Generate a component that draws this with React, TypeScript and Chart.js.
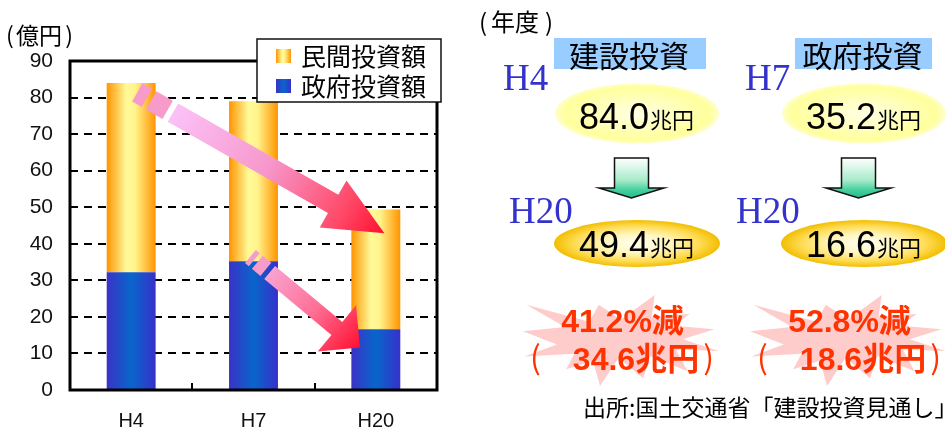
import React, { useEffect, useRef } from "react";
import { Chart, registerables } from "chart.js";

Chart.register(...registerables);

// Fiscal years on the category axis
const years = ["H4", "H7", "H20"];
// Stacked series values (億円 axis)
const privateInvestment = [51.8, 43.8, 32.8];
const governmentInvestment = [32.2, 35.2, 16.6];
const seriesNames = ["民間投資額", "政府投資額"];
const yMax = 90;
const yStep = 10;

// Trend arrows over the bars: [category index, value] of tail and tip
const arrowTails = [
  [0.05, 81.4],
  [0.975, 36.5],
];
const arrowTips = [
  [2.07, 42.9],
  [1.87, 11.6],
];

// Comparison panels
const panelTitles = ["建設投資", "政府投資"];
const panelFromYears = ["H4", "H7"];
const panelToYears = ["H20", "H20"];
const unitLabel = "兆円";
const sourceNote = "出所:国土交通省「建設投資見通し」";

const total = (i: number) => privateInvestment[i] + governmentInvestment[i];
const panelFrom = [total(0), governmentInvestment[1]];
const panelTo = [total(2), governmentInvestment[2]];

const BAR_PCT = 0.4;
const ORANGE: [number, string][] = [
  [0, "#FF9400"],
  [0.4, "#FFFA99"],
  [0.58, "#FFF48C"],
  [1, "#FF9400"],
];
const BLUE: [number, string][] = [
  [0, "#3A32C8"],
  [0.5, "#0866CA"],
  [1, "#3631CA"],
];

const CJK = '"Noto Sans CJK JP", sans-serif';
const SANS = '"Liberation Sans", Arial, sans-serif';
const SERIF = '"Liberation Serif", "Times New Roman", serif';

function hGradient(ctx: CanvasRenderingContext2D, x0: number, x1: number, stops: [number, string][]) {
  const g = ctx.createLinearGradient(x0, 0, x1, 0);
  stops.forEach(([o, c]) => g.addColorStop(o, c));
  return g;
}

const barFill = (stops: [number, string][]) => (c: any) => {
  const chart = c.chart;
  if (!chart.chartArea || c.type !== "data" || !chart.scales.x) return stops[1][1];
  const xs = chart.scales.x;
  const cx = xs.getPixelForValue(c.dataIndex);
  const half = ((xs.width / chart.data.labels.length) * BAR_PCT) / 2;
  return hGradient(chart.ctx, cx - half, cx + half, stops);
};

type ArrowStyle = {
  shaft: number;
  headW: number;
  headL: number;
  stripes: [number, number][];
  bodyStart: number;
  stripeColor: string;
  body: [number, string][];
};

const arrowStyles: ArrowStyle[] = [
  {
    shaft: 21,
    headW: 54,
    headL: 59,
    stripes: [
      [0, 11],
      [16, 35],
    ],
    bodyStart: 41,
    stripeColor: "#F79BCB",
    body: [
      [0, "#FBC2F8"],
      [0.45, "#F797CB"],
      [0.8, "#FF4B6A"],
      [1, "#FF1030"],
    ],
  },
  {
    shaft: 17,
    headW: 60,
    headL: 30,
    stripes: [
      [0, 5],
      [9, 20],
    ],
    bodyStart: 25,
    stripeColor: "#F79BCB",
    body: [
      [0, "#F9A2D0"],
      [0.5, "#FF6F95"],
      [1, "#FF1030"],
    ],
  },
];

function drawTrendArrow(ctx: CanvasRenderingContext2D, x0: number, y0: number, x1: number, y1: number, st: ArrowStyle) {
  const L = Math.hypot(x1 - x0, y1 - y0);
  const ux = (x1 - x0) / L;
  const uy = (y1 - y0) / L;
  const nx = -uy;
  const ny = ux;
  const P = (t: number, s: number): [number, number] => [x0 + ux * t + nx * s, y0 + uy * t + ny * s];
  const sw = st.shaft / 2;
  ctx.fillStyle = st.stripeColor;
  st.stripes.forEach(([a, b]) => {
    const pts = [P(a, -sw), P(b, -sw), P(b, sw), P(a, sw)];
    ctx.beginPath();
    ctx.moveTo(...pts[0]);
    pts.slice(1).forEach((p) => ctx.lineTo(...p));
    ctx.closePath();
    ctx.fill();
  });
  const hb = L - st.headL;
  const start = P(st.bodyStart, 0);
  const g = ctx.createLinearGradient(start[0], start[1], x1, y1);
  st.body.forEach(([o, c]) => g.addColorStop(o, c));
  ctx.fillStyle = g;
  const pts = [
    P(st.bodyStart, -sw),
    P(hb, -sw),
    P(hb, -st.headW / 2),
    [x1, y1] as [number, number],
    P(hb, st.headW / 2),
    P(hb, sw),
    P(st.bodyStart, sw),
  ];
  ctx.beginPath();
  ctx.moveTo(...pts[0]);
  pts.slice(1).forEach((p) => ctx.lineTo(...p));
  ctx.closePath();
  ctx.fill();
}

// Explosion outline on a 21600 grid
const SEAL: [number, number][] = [
  [10800, 5800], [14522, 0], [14155, 5325], [18380, 4457], [16702, 7315], [21097, 8137],
  [17607, 10475], [21600, 13290], [16837, 12942], [18145, 18095], [14020, 14457], [13247, 19737],
  [10532, 14935], [8485, 21600], [7715, 15627], [4762, 17617], [5667, 13937], [135, 14587],
  [3722, 11775], [0, 8615], [4627, 7617], [370, 2295], [7312, 6320], [8352, 2295],
];

function drawSeal(ctx: CanvasRenderingContext2D, x: number, y: number, w: number, h: number, color: string) {
  ctx.beginPath();
  SEAL.forEach(([px, py], i) => {
    const X = x + (px / 21600) * w;
    const Y = y + (py / 21600) * h;
    if (i === 0) ctx.moveTo(X, Y);
    else ctx.lineTo(X, Y);
  });
  ctx.closePath();
  ctx.fillStyle = color;
  ctx.fill();
}

function drawEllipse(ctx: CanvasRenderingContext2D, cx: number, cy: number, rx: number, ry: number, stops: [number, string][]) {
  ctx.save();
  ctx.translate(cx, cy);
  ctx.scale(rx, ry);
  const g = ctx.createRadialGradient(0, 0, 0, 0, 0, 1);
  stops.forEach(([o, c]) => g.addColorStop(o, c));
  ctx.fillStyle = g;
  ctx.beginPath();
  ctx.arc(0, 0, 1, 0, Math.PI * 2);
  ctx.fill();
  ctx.restore();
}

function drawDownArrow(ctx: CanvasRenderingContext2D, cx: number) {
  const top = 158;
  const base = 188;
  const tip = 198;
  const sw = 17;
  const hw = 32.5;
  const g = ctx.createLinearGradient(0, top, 0, tip);
  g.addColorStop(0, "#FFFFFF");
  g.addColorStop(0.55, "#A8EBCB");
  g.addColorStop(0.8, "#44D09E");
  g.addColorStop(1, "#22BB88");
  ctx.beginPath();
  ctx.moveTo(cx - sw, top);
  ctx.lineTo(cx + sw, top);
  ctx.lineTo(cx + sw, base);
  ctx.lineTo(cx + hw, base);
  ctx.lineTo(cx, tip);
  ctx.lineTo(cx - hw, base);
  ctx.lineTo(cx - sw, base);
  ctx.closePath();
  ctx.fillStyle = g;
  ctx.fill();
  ctx.lineWidth = 1.5;
  ctx.strokeStyle = "#111";
  ctx.stroke();
}

function text(ctx: CanvasRenderingContext2D, s: string, x: number, y: number, font: string, color: string, align: CanvasTextAlign = "left") {
  ctx.font = font;
  ctx.fillStyle = color;
  ctx.textAlign = align;
  ctx.textBaseline = "alphabetic";
  ctx.fillText(s, x, y);
}

function valueWithUnit(ctx: CanvasRenderingContext2D, v: string, cx: number, baseline: number) {
  const numFont = `36px ${SANS}`;
  const unitFont = `22px ${CJK}`;
  ctx.font = numFont;
  const wn = ctx.measureText(v).width;
  ctx.font = unitFont;
  const wu = ctx.measureText(unitLabel).width;
  const x0 = cx - (wn + wu) / 2 - 1;
  text(ctx, v, x0, baseline, numFont, "#000");
  text(ctx, unitLabel, x0 + wn + 1, baseline - 1, unitFont, "#000");
}

const panelLayout = [
  { cx: 637, fromX: 503, box: [554, 152] },
  { cx: 864, fromX: 745, box: [795, 137] },
];

function drawPanels(ctx: CanvasRenderingContext2D) {
  ctx.save();
  // year caption
  text(ctx, "(", 479, 31, `24px ${CJK}`, "#000");
  text(ctx, "年度", 491, 31, `24px ${CJK}`, "#000");
  text(ctx, ")", 553, 31, `24px ${CJK}`, "#000", "right");

  panelLayout.forEach((lay, i) => {
    const { cx } = lay;
    // title
    ctx.fillStyle = "#99CCFF";
    ctx.fillRect(lay.box[0], 38, lay.box[1], 31);
    text(ctx, panelTitles[i], lay.box[0] + lay.box[1] / 2 - 1, 66.5, `30px ${CJK}`, "#000", "center");

    // start year + value
    text(ctx, panelFromYears[i], lay.fromX, 90, `37px ${SERIF}`, "#3333CC");
    drawEllipse(ctx, cx, 113.5, 82, 30, [
      [0, "#FFFFE4"],
      [0.55, "#FFFFB8"],
      [0.88, "#FFFF9C"],
      [1, "rgba(255,255,160,0.55)"],
    ]);
    valueWithUnit(ctx, panelFrom[i].toFixed(1), cx, 129);

    drawDownArrow(ctx, cx - 5.5);

    // end year + value
    text(ctx, panelToYears[i], cx - 128, 223, `37px ${SERIF}`, "#3333CC");
    drawEllipse(ctx, cx, 243.5, 83, 23.5, [
      [0, "#FFFFF2"],
      [0.4, "#FFF6C0"],
      [0.75, "#FFDC55"],
      [1, "#F2BE00"],
    ]);
    valueWithUnit(ctx, panelTo[i].toFixed(1), cx, 257);

    // reduction
    drawSeal(ctx, cx - 114, 295, 196, 91, "#FFCCCC");
    const diff = panelFrom[i] - panelTo[i];
    const pct = (diff / panelFrom[i]) * 100;
    const red = "#FF3300";
    const bold = `bold 32px ${SANS}, ${CJK}`;
    text(ctx, `${pct.toFixed(1)}%減`, cx - 14.5, 332, bold, red, "center");
    text(ctx, `${diff.toFixed(1)}${unitLabel}`, cx - 1, 370, bold, red, "center");
    text(ctx, "(", cx - 107, 369, `32px ${CJK}`, red);
    text(ctx, ")", cx + 77, 369, `32px ${CJK}`, red, "right");
  });

  text(ctx, sourceNote, 583, 416, `23px ${CJK}`, "#000");
  ctx.restore();
}

const decorations = {
  id: "decorations",
  afterDatasetsDraw(chart: any) {
    const { ctx, chartArea: a, scales } = chart;
    const xs = scales.x;
    const ys = scales.y;
    ctx.save();
    // plot frame
    ctx.lineWidth = 3;
    ctx.strokeStyle = "#000";
    ctx.strokeRect(a.left, a.top, a.right - a.left, a.bottom - a.top);
    // inner category separators on the bottom axis
    ctx.lineWidth = 2;
    for (let i = 0; i < years.length - 1; i++) {
      const x = Math.round(xs.getPixelForValue(i + 0.5));
      ctx.beginPath();
      ctx.moveTo(x, a.bottom);
      ctx.lineTo(x, a.bottom - 7);
      ctx.stroke();
    }
    // trend arrows
    arrowTails.forEach((t, i) => {
      const tip = arrowTips[i];
      drawTrendArrow(
        ctx,
        xs.getPixelForValue(t[0]),
        ys.getPixelForValue(t[1]),
        xs.getPixelForValue(tip[0]),
        ys.getPixelForValue(tip[1]),
        arrowStyles[i]
      );
    });
    // legend box
    const lx = a.right - 180;
    const ly = a.top - 22;
    const lw = 184;
    const lh = 63;
    ctx.fillStyle = "#fff";
    ctx.fillRect(lx, ly, lw, lh);
    ctx.lineWidth = 1.5;
    ctx.strokeStyle = "#111";
    ctx.strokeRect(lx, ly, lw, lh);
    const entries = [
      { name: seriesNames[0], stops: ORANGE },
      { name: seriesNames[1], stops: BLUE },
    ];
    entries.forEach((e, i) => {
      const sy = ly + 10 + i * 30;
      ctx.fillStyle = hGradient(ctx, lx + 19, lx + 34, e.stops);
      ctx.fillRect(lx + 19, sy, 15, 14);
      text(ctx, e.name, lx + 44, sy + 17, `25px ${CJK}`, "#000");
    });
    ctx.restore();
  },
  afterDraw(chart: any) {
    const { ctx } = chart;
    ctx.save();
    // unit caption above the value axis
    text(ctx, "(", 6, 44, `23px ${CJK}`, "#000");
    text(ctx, "億円", 16, 44, `23px ${CJK}`, "#000");
    text(ctx, ")", 73, 44, `23px ${CJK}`, "#000", "right");
    drawPanels(ctx);
    ctx.restore();
  },
};

export default function App() {
  const ref = useRef<HTMLCanvasElement>(null);
  useEffect(() => {
    const canvas = ref.current;
    if (!canvas) return;
    const chart = new Chart(canvas, {
      type: "bar",
      data: {
        labels: years,
        datasets: [
          { label: seriesNames[1], data: governmentInvestment, backgroundColor: barFill(BLUE) as any },
          { label: seriesNames[0], data: privateInvestment, backgroundColor: barFill(ORANGE) as any },
        ],
      },
      options: {
        responsive: false,
        animation: false,
        devicePixelRatio: 1,
        layout: { padding: { left: 0, top: 61, right: 508, bottom: 0 } },
        datasets: { bar: { barPercentage: BAR_PCT, categoryPercentage: 1, borderWidth: 0 } },
        plugins: { legend: { display: false }, tooltip: { enabled: false } },
        scales: {
          x: {
            stacked: true,
            grid: { display: false, drawTicks: false },
            border: { display: false },
            ticks: { padding: 19, color: "#111", font: { family: SANS, size: 20 } },
            afterFit: (s: any) => {
              s.height = 39;
            },
          },
          y: {
            stacked: true,
            min: 0,
            max: yMax,
            ticks: { stepSize: yStep, padding: 17, color: "#111", font: { family: SANS, size: 21 } },
            grid: { color: "#000", lineWidth: 2, drawTicks: false },
            border: { display: false, dash: [8, 6] },
            afterFit: (s: any) => {
              s.width = 70;
            },
          },
        },
      },
      plugins: [decorations],
    });
    return () => chart.destroy();
  }, []);
  return (
    <div style={{ position: "fixed", left: 0, top: 0, width: 945, height: 429, background: "#fff" }}>
      <canvas ref={ref} width={945} height={429} style={{ display: "block", width: 945, height: 429 }} />
    </div>
  );
}
